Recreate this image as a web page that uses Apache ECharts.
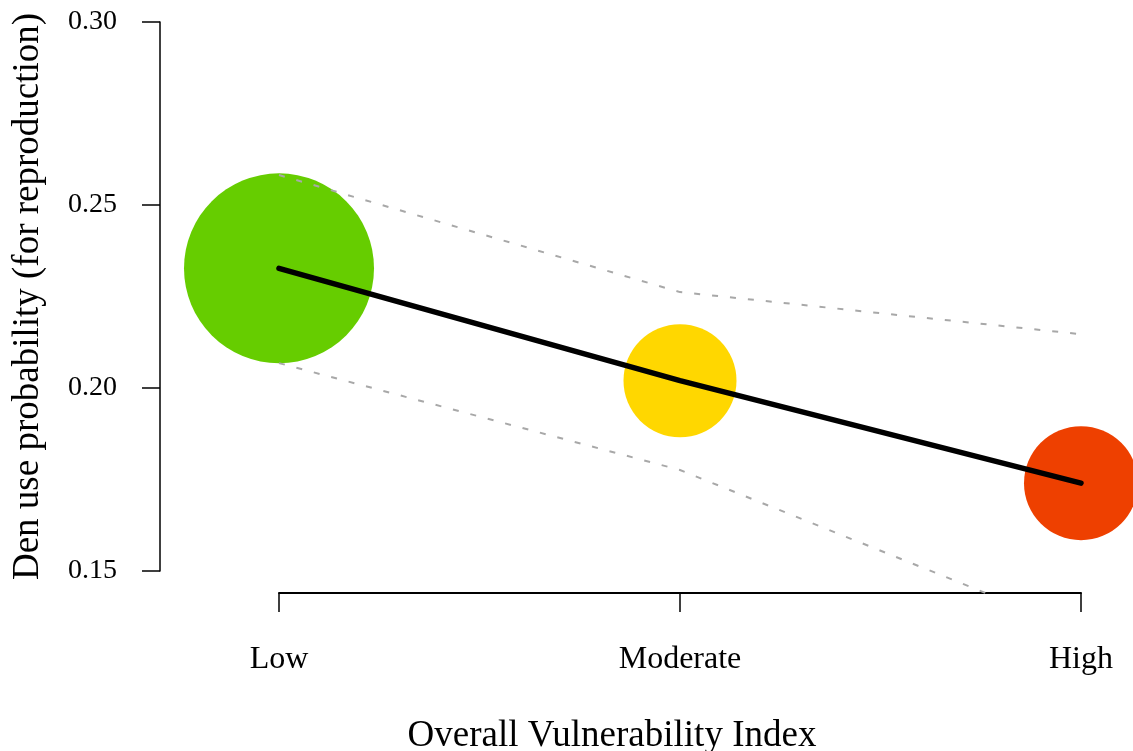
<!DOCTYPE html>
<html>
<head>
<meta charset="utf-8">
<script src="https://cdn.jsdelivr.net/npm/echarts@6/dist/echarts.min.js"></script>
<style>
  html, body { margin: 0; padding: 0; background: #ffffff; }
  #chart { width: 1133px; height: 751px; }
</style>
</head>
<body>
<div id="chart"></div>
<script>
// ---- data ----
const categories = ['Low', 'Moderate', 'High'];
const meanProb   = [0.2327, 0.2020, 0.1740];
const upperCI    = [0.2582, 0.2262, 0.2147];
const lowerCI    = [0.2068, 0.1776, 0.1335];
const yTicks     = [0.15, 0.20, 0.25, 0.30];
const yTickStep  = 0.05;
const xTitle = 'Overall Vulnerability Index';
const yTitle = 'Den use probability (for reproduction)';

// ---- styling ----
const bubbleColors = ['#66CD00', '#FFD700', '#EE4000'];
const bubbleDiameters = [190, 113, 114];
const fontFamily = "'Liberation Serif', 'DejaVu Serif', serif";

// plot region extends a bit below the lowest tick (clip line for the CI)
const yMinPlot = yTicks[0] - yTickStep * 22 / 183;

const chart = echarts.init(document.getElementById('chart'), null, { renderer: 'canvas' });

const option = {
  backgroundColor: '#ffffff',
  animation: false,
  grid: [
    { left: 279, right: 52, top: 22, bottom: 158, containLabel: false, outerBoundsMode: 'none' },
    { left: 160, right: 69, top: 22, bottom: 180, containLabel: false, outerBoundsMode: 'none' }
  ],
  xAxis: [
    {
      gridIndex: 0,
      type: 'category',
      data: categories,
      boundaryGap: false,
      axisLine: { show: true, lineStyle: { color: '#000', width: 2 } },
      axisTick: { show: true, length: 19, inside: false, lineStyle: { color: '#000', width: 1.5 } },
      axisLabel: { show: true, margin: 51, color: '#000', fontSize: 32, fontFamily: fontFamily },
      splitLine: { show: false }
    },
    {
      gridIndex: 1,
      type: 'value',
      min: 0,
      max: 1,
      axisLine: { show: false },
      axisTick: { show: false },
      axisLabel: { show: false },
      splitLine: { show: false },
      name: xTitle,
      nameLocation: 'middle',
      nameGap: 147,
      nameTextStyle: { color: '#000', fontSize: 37, fontFamily: fontFamily }
    }
  ],
  yAxis: [
    {
      gridIndex: 0,
      type: 'value',
      min: yMinPlot,
      max: yTicks[yTicks.length - 1],
      show: false
    },
    {
      gridIndex: 1,
      type: 'value',
      min: yTicks[0],
      max: yTicks[yTicks.length - 1],
      interval: yTickStep,
      axisLine: { show: true, lineStyle: { color: '#000', width: 1.5 } },
      axisTick: { show: true, length: 18, inside: false, lineStyle: { color: '#000', width: 1.5 } },
      axisLabel: {
        show: true, margin: 43, color: '#000', fontSize: 28, fontFamily: fontFamily,
        formatter: v => v.toFixed(2)
      },
      splitLine: { show: false },
      name: yTitle,
      nameLocation: 'middle',
      nameGap: 113,
      nameRotate: 90,
      nameTextStyle: { color: '#000', fontSize: 37, fontFamily: fontFamily }
    }
  ],
  series: [
    {
      type: 'scatter',
      xAxisIndex: 0, yAxisIndex: 0,
      clip: false,
      z: 1,
      data: meanProb.map((v, i) => ({
        value: [categories[i], v],
        symbolSize: bubbleDiameters[i],
        itemStyle: { color: bubbleColors[i], opacity: 1 }
      })),
      symbol: 'circle'
    },
    {
      type: 'line',
      xAxisIndex: 0, yAxisIndex: 0,
      z: 2,
      clip: true,
      showSymbol: false,
      symbol: 'none',
      data: upperCI.map((v, i) => [categories[i], v]),
      lineStyle: { color: '#A8A8A8', width: 2, type: [6, 12] }
    },
    {
      type: 'line',
      xAxisIndex: 0, yAxisIndex: 0,
      z: 2,
      clip: true,
      showSymbol: false,
      symbol: 'none',
      data: lowerCI.map((v, i) => [categories[i], v]),
      lineStyle: { color: '#A8A8A8', width: 2, type: [6, 12] }
    },
    {
      type: 'line',
      xAxisIndex: 0, yAxisIndex: 0,
      z: 3,
      clip: false,
      showSymbol: false,
      symbol: 'none',
      data: meanProb.map((v, i) => [categories[i], v]),
      lineStyle: { color: '#000', width: 5.5, cap: 'round', join: 'round' }
    }
  ]
};

chart.setOption(option);
</script>
</body>
</html>
